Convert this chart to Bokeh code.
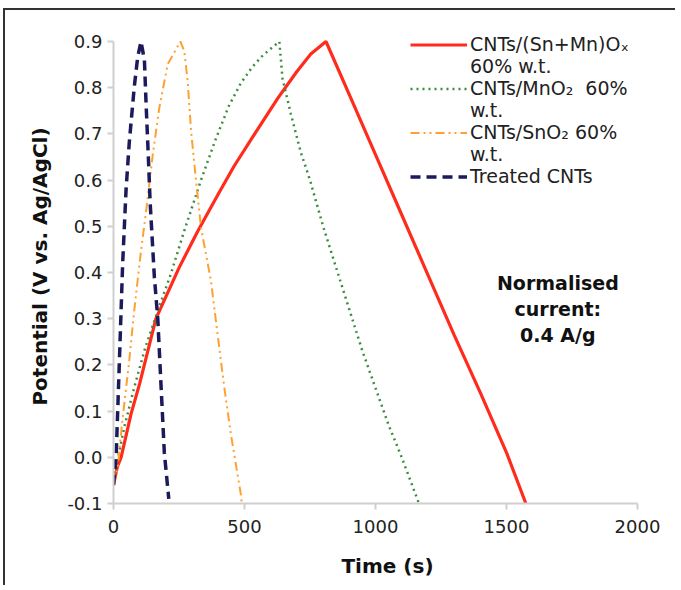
from bokeh.plotting import figure
from bokeh.models import Range1d, Legend, LegendItem, Label, FixedTicker, PrintfTickFormatter
from bokeh.embed import file_html
from bokeh.resources import INLINE

# CNTs/(Sn+Mn)Ox 60% w.t.
snmn_t = [0, 15, 29, 67, 100, 162, 250, 322, 400, 460, 550, 628, 700, 753, 811,
          900, 1000, 1100, 1200, 1300, 1400, 1500, 1574]
snmn_v = [-0.06, -0.02, 0.0, 0.094, 0.16, 0.30, 0.41, 0.49, 0.57, 0.63, 0.71, 0.778, 0.835, 0.873, 0.9,
          0.785, 0.655, 0.525, 0.395, 0.265, 0.14, 0.01, -0.1]
# CNTs/MnO2 60% w.t.
mno2_t = [0, 10, 41, 79, 120, 169, 219, 270, 334, 391, 440, 486, 530, 570, 633,
          645, 677, 715, 750, 800, 850, 900, 950, 1000, 1050, 1100, 1166]
mno2_v = [-0.06, -0.022, 0.065, 0.151, 0.235, 0.317, 0.397, 0.49, 0.60, 0.69, 0.76, 0.81, 0.845, 0.87, 0.9,
          0.82, 0.743, 0.66, 0.60, 0.50, 0.41, 0.32, 0.23, 0.15, 0.07, 0.0, -0.1]
# CNTs/SnO2 60% w.t.
sno2_t = [0, 16, 35, 60, 79, 105, 124, 150, 175, 207, 255,
          270, 283, 296, 315, 334, 372, 397, 423, 448, 486, 490]
sno2_v = [-0.06, -0.022, 0.086, 0.209, 0.317, 0.447, 0.53, 0.656, 0.757, 0.851, 0.9,
          0.88, 0.815, 0.707, 0.599, 0.497, 0.382, 0.267, 0.151, 0.05, -0.08, -0.1]
# Treated CNTs
cnt_t = [0, 10, 22, 35, 48, 60, 79, 92, 105,
         118, 124, 133, 140, 156, 169, 181, 194, 211]
cnt_v = [-0.06, 0.0, 0.2, 0.42, 0.58, 0.68, 0.80, 0.865, 0.9,
         0.86, 0.77, 0.65, 0.55, 0.39, 0.30, 0.16, 0.01, -0.09]

x_ticks = [0, 500, 1000, 1500, 2000]
y_ticks = [-0.1, 0.0, 0.1, 0.2, 0.3, 0.4, 0.5, 0.6, 0.7, 0.8, 0.9]

# legend label lines (first line beside the sample line, second line below)
label_lines = [("CNTs/(Sn+Mn)O\u2093", "60% w.t."),
               ("CNTs/MnO\u2082  60%", "w.t."),
               ("CNTs/SnO\u2082 60%", "w.t."),
               ("Treated CNTs", None)]

FONT = "DejaVu Sans"

p = figure(width=670, height=575, output_backend="svg", toolbar_location=None,
           x_range=Range1d(0, 2091.6), y_range=Range1d(-0.1, 0.926),
           frame_width=548, frame_height=474,
           min_border_left=108, min_border_top=19, min_border_right=14, min_border_bottom=82)
p.styles = {"margin-left": "3px", "margin-top": "8px",
            "border-left": "2px solid #333333", "border-top": "2px solid #333333"}
p.outline_line_color = None
p.grid.visible = False
p.background_fill_color = "white"
p.border_fill_color = "white"

r1 = p.line(snmn_t, snmn_v, line_color="#ff2b1c", line_width=3.2)
r2 = p.line(mno2_t, mno2_v, line_color="#3d8c3d", line_width=2.5, line_dash="2 4")
r3 = p.line(sno2_t, sno2_v, line_color="#ffa030", line_width=2, line_dash="9 4 2 4 2 4")
r4 = p.line(cnt_t, cnt_v, line_color="#1c1a5a", line_width=3.5, line_dash="10 6")
blank = p.line([], [], line_alpha=0)

for ax in (p.xaxis[0], p.yaxis[0]):
    ax.axis_line_color = "#cfcfcf"
    ax.axis_line_width = 2
    ax.major_tick_line_color = "#cfcfcf"
    ax.major_tick_line_width = 2
    ax.major_tick_out = 6
    ax.major_tick_in = 0
    ax.minor_tick_line_color = None
    ax.major_label_text_font = FONT
    ax.major_label_text_font_size = "18px"
    ax.major_label_text_color = "#222222"
    ax.axis_label_text_font = FONT
    ax.axis_label_text_font_size = "20px"
    ax.axis_label_text_font_style = "bold"
    ax.axis_label_text_color = "#111111"

p.xaxis.bounds = (0, 2000)
p.yaxis.bounds = (-0.1, 0.9)
p.xaxis.ticker = FixedTicker(ticks=x_ticks)
p.yaxis.ticker = FixedTicker(ticks=y_ticks)
p.yaxis.formatter = PrintfTickFormatter(format="%.1f")
p.xaxis.axis_label = "Time (s)"
p.yaxis.axis_label = "Potential (V vs. Ag/AgCl)"
p.xaxis.major_label_standoff = 10
p.yaxis.major_label_standoff = 5
p.xaxis.axis_label_standoff = 18
p.yaxis.axis_label_standoff = 12

items = []
for (first, second), r in zip(label_lines, [r1, r2, r3, r4]):
    items.append(LegendItem(label=first, renderers=[r]))
    if second:
        items.append(LegendItem(label=second, renderers=[blank]))

legend = Legend(items=items, location=(297, 316), padding=0, margin=0, spacing=0,
                glyph_width=57, glyph_height=19, label_height=19, label_standoff=3,
                border_line_color=None, background_fill_alpha=0)
legend.label_text_font = FONT
legend.label_text_font_size = "19px"
legend.label_text_color = "#222222"
p.add_layout(legend)

note = Label(x=1696, y=0.3214, text="Normalised\ncurrent:\n0.4 A/g", text_align="center",
             text_baseline="middle", text_font=FONT, text_font_size="19px",
             text_font_style="bold", text_line_height=1.19, text_color="#111111")
p.add_layout(note)

open("out.html", "w").write(file_html(p, INLINE))
